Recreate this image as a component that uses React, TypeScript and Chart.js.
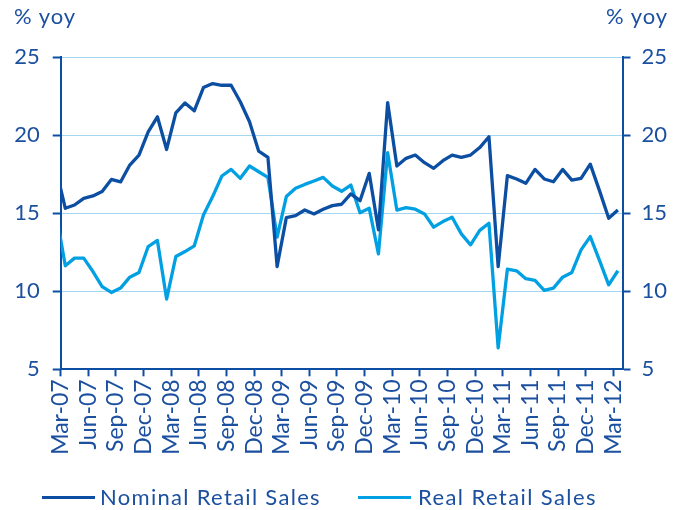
import React, { useEffect, useRef } from 'react';
import { Chart, registerables } from 'chart.js';

Chart.register(...registerables);

// Monthly categories (Feb-07 is only partly visible, clipped at the left edge)
const months = [
  'Feb-07', 'Mar-07', 'Apr-07', 'May-07', 'Jun-07', 'Jul-07', 'Aug-07', 'Sep-07', 'Oct-07', 'Nov-07', 'Dec-07',
  'Jan-08', 'Feb-08', 'Mar-08', 'Apr-08', 'May-08', 'Jun-08', 'Jul-08', 'Aug-08', 'Sep-08', 'Oct-08', 'Nov-08', 'Dec-08',
  'Jan-09', 'Feb-09', 'Mar-09', 'Apr-09', 'May-09', 'Jun-09', 'Jul-09', 'Aug-09', 'Sep-09', 'Oct-09', 'Nov-09', 'Dec-09',
  'Jan-10', 'Feb-10', 'Mar-10', 'Apr-10', 'May-10', 'Jun-10', 'Jul-10', 'Aug-10', 'Sep-10', 'Oct-10', 'Nov-10', 'Dec-10',
  'Jan-11', 'Feb-11', 'Mar-11', 'Apr-11', 'May-11', 'Jun-11', 'Jul-11', 'Aug-11', 'Sep-11', 'Oct-11', 'Nov-11', 'Dec-11',
  'Jan-12', 'Feb-12', 'Mar-12',
];

const nominalRetailSales = [
  17.8, 15.31, 15.52, 15.95, 16.1, 16.38, 17.16, 17.0, 18.08, 18.72, 20.21,
  21.17, 19.08, 21.42, 22.06, 21.55, 23.04, 23.3, 23.19, 23.19, 22.13, 20.85, 18.97,
  18.57, 11.58, 14.71, 14.84, 15.2, 14.95, 15.25, 15.48, 15.57, 16.23, 15.8, 17.55,
  13.93, 22.08, 18.02, 18.51, 18.72, 18.23, 17.87, 18.36, 18.72, 18.57, 18.72, 19.2,
  19.89, 11.58, 17.4, 17.19, 16.91, 17.8, 17.19, 17.01, 17.8, 17.12, 17.23, 18.14,
  16.44, 14.67, 15.2,
];

const realRetailSales = [
  15.0, 11.63, 12.12, 12.12, 11.26, 10.3, 9.92, 10.2, 10.9, 11.2, 12.86,
  13.25, 9.5, 12.22, 12.54, 12.9, 14.88, 16.06, 17.38, 17.8, 17.23, 18.02, 17.65,
  17.29, 13.46, 16.06, 16.59, 16.84, 17.06, 17.29, 16.74, 16.4, 16.8, 15.03, 15.31,
  12.39, 18.87, 15.2, 15.35, 15.25, 14.95, 14.1, 14.46, 14.74, 13.67, 12.97, 13.9,
  14.35, 6.37, 11.41, 11.31, 10.8, 10.69, 10.05, 10.2, 10.9, 11.2, 12.65, 13.5,
  11.97, 10.41, 11.31,
];

const seriesNames = ['Nominal Retail Sales', 'Real Retail Sales'];
const yTicks = [5, 10, 15, 20, 25];
const unitLabel = '% yoy';

const DARK = '#0b4ea2';
const LIGHT = '#00a0e3';
const TEXT = '#1b4f9f';
const GRID = '#a3d6f0';
const FONT = 'Lato, "Open Sans", sans-serif';

export default function App() {
  const canvasRef = useRef<HTMLCanvasElement | null>(null);

  useEffect(() => {
    const canvas = canvasRef.current;
    if (!canvas) return;
    const chart = new Chart(canvas, {
      type: 'line',
      data: {
        labels: months,
        datasets: [
          {
            label: seriesNames[0],
            data: nominalRetailSales,
            borderColor: DARK,
            backgroundColor: DARK,
            borderWidth: 3.3,
            pointRadius: 0,
            tension: 0,
            clip: 0,
            borderJoinStyle: 'round',
            yAxisID: 'y',
          },
          {
            label: seriesNames[1],
            data: realRetailSales,
            borderColor: LIGHT,
            backgroundColor: LIGHT,
            borderWidth: 3.3,
            pointRadius: 0,
            tension: 0,
            clip: 0,
            borderJoinStyle: 'round',
            yAxisID: 'y',
          },
        ],
      },
      options: {
        responsive: false,
        animation: false,
        devicePixelRatio: 1,
        layout: { padding: { top: 57, left: 0, right: 0, bottom: 40.7 } },
        plugins: {
          legend: { display: false },
          tooltip: { enabled: false },
        },
        scales: {
          x: {
            type: 'category',
            min: 'Mar-07',
            max: 'Mar-12',
            offset: true,
            grid: {
              offset: true,
              drawOnChartArea: false,
              drawTicks: true,
              tickLength: 7,
              tickWidth: 2,
              tickColor: (ctx: any) =>
                ctx.index !== undefined && ctx.index % 3 === 0 ? DARK : 'rgba(0,0,0,0)',
            },
            border: { color: DARK, width: 2 },
            ticks: {
              autoSkip: false,
              maxRotation: 90,
              minRotation: 90,
              labelOffset: -4.6,
              padding: 3,
              color: TEXT,
              font: { family: FONT, size: 23 },
              callback: function (this: any, value: any, index: number) {
                return index % 3 === 0 ? this.getLabelForValue(value) : '';
              },
            },
            afterFit: (scale: any) => {
              scale.height = 100;
            },
          },
          y: {
            position: 'left',
            min: yTicks[0],
            max: yTicks[yTicks.length - 1],
            afterBuildTicks: (scale: any) => {
              scale.ticks = yTicks.map((v) => ({ value: v }));
            },
            grid: {
              color: GRID,
              lineWidth: 1,
              tickColor: DARK,
              tickLength: 8,
              tickWidth: 2,
            },
            border: { color: DARK, width: 2 },
            ticks: {
              color: TEXT,
              padding: 13,
              font: { family: FONT, size: 22 },
            },
            afterFit: (scale: any) => {
              scale.width = 60.7;
            },
          },
          y2: {
            position: 'right',
            min: yTicks[0],
            max: yTicks[yTicks.length - 1],
            afterBuildTicks: (scale: any) => {
              scale.ticks = yTicks.map((v) => ({ value: v }));
            },
            grid: {
              drawOnChartArea: false,
              tickColor: DARK,
              tickLength: 8,
              tickWidth: 2,
            },
            border: { color: DARK, width: 2 },
            ticks: {
              color: TEXT,
              padding: 11,
              font: { family: FONT, size: 22 },
            },
            afterFit: (scale: any) => {
              scale.width = 59.5;
            },
          },
        },
      },
    });
    return () => chart.destroy();
  }, []);

  const textStyle: React.CSSProperties = {
    position: 'absolute',
    fontFamily: FONT,
    color: TEXT,
    fontSize: 22,
    lineHeight: '22px',
    whiteSpace: 'nowrap',
  };

  return (
    <div
      style={{
        position: 'fixed',
        left: 0,
        top: 0,
        width: 682,
        height: 510,
        background: '#ffffff',
        overflow: 'hidden',
      }}
    >
      <canvas ref={canvasRef} width={682} height={510} style={{ display: 'block' }} />
      <div style={{ ...textStyle, left: 14, top: 5, letterSpacing: '1px' }}>{unitLabel}</div>
      <div style={{ ...textStyle, left: 606, top: 5, letterSpacing: '1px' }}>{unitLabel}</div>
      <div style={{ position: 'absolute', left: 42, top: 495.5, width: 53, height: 3, background: DARK }} />
      <div style={{ ...textStyle, left: 100, top: 486, letterSpacing: '1.3px' }}>{seriesNames[0]}</div>
      <div style={{ position: 'absolute', left: 358, top: 495.5, width: 53, height: 3, background: LIGHT }} />
      <div style={{ ...textStyle, left: 418, top: 486, letterSpacing: '1.4px' }}>{seriesNames[1]}</div>
    </div>
  );
}
